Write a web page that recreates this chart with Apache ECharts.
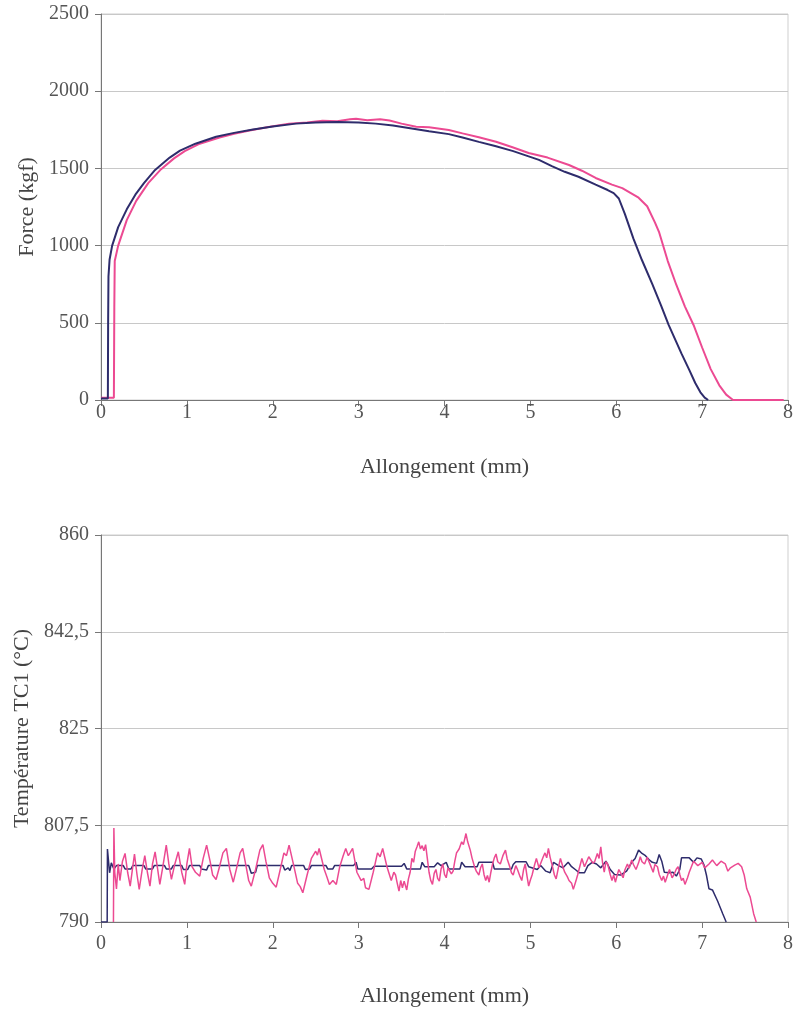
<!DOCTYPE html>
<html>
<head>
<meta charset="utf-8">
<script src="https://cdn.jsdelivr.net/npm/echarts@6/dist/echarts.min.js"></script>
<style>
html,body{margin:0;padding:0;background:#fff;}
#c{width:796px;height:1009px;}
</style>
</head>
<body>
<div id="c"></div>
<script>
// ---- Data ----
const xTickLabels = ['0','1','2','3','4','5','6','7','8'];
const forceTickLabels = ['0','500','1000','1500','2000','2500'];
const tempTickLabels = ['790','807,5','825','842,5','860'];
const tempBase = 790;

const forceBlue = [
[0,10],[0.08,10],[0.083,500],[0.087,800],[0.1,910],[0.13,1000],[0.2,1120],[0.3,1235],[0.4,1330],[0.5,1405],[0.63,1490],[0.8,1570],[0.92,1615],[1.1,1660],[1.34,1705],[1.55,1730],[1.77,1752],[2.0,1772],[2.27,1790],[2.5,1797],[2.75,1800],[3.0,1798],[3.2,1790],[3.4,1778],[3.6,1760],[3.82,1740],[4.05,1722],[4.21,1700],[4.4,1672],[4.6,1643],[4.8,1612],[4.98,1578],[5.1,1555],[5.25,1515],[5.4,1478],[5.56,1446],[5.76,1395],[5.9,1360],[5.97,1340],[6.03,1305],[6.1,1205],[6.2,1045],[6.3,905],[6.42,750],[6.52,615],[6.61,486],[6.7,375],[6.76,300],[6.85,195],[6.92,110],[6.98,50],[7.03,15],[7.07,0]
];
const forcePink = [
[0,15],[0.15,15],[0.155,600],[0.16,900],[0.2,1000],[0.3,1165],[0.41,1290],[0.55,1405],[0.7,1495],[0.85,1565],[0.975,1612],[1.15,1660],[1.38,1700],[1.55,1725],[1.73,1745],[1.95,1768],[2.19,1790],[2.4,1798],[2.58,1808],[2.75,1806],[2.9,1818],[2.97,1822],[3.1,1812],[3.25,1818],[3.36,1810],[3.5,1790],[3.67,1770],[3.82,1766],[4.05,1749],[4.21,1727],[4.4,1702],[4.6,1673],[4.8,1635],[4.98,1600],[5.2,1570],[5.45,1522],[5.6,1485],[5.76,1438],[5.95,1395],[6.07,1372],[6.26,1310],[6.36,1255],[6.45,1150],[6.5,1085],[6.6,900],[6.7,745],[6.8,605],[6.9,486],[7.0,340],[7.1,200],[7.2,95],[7.28,35],[7.36,0],[7.95,0]
];
const tempBlue = [
[0,790],[0.072,790],[0.075,803.2],[0.09,800.6],[0.1,798.9],[0.12,800.7],[0.15,799.6],[0.18,800.2],[0.26,800.2],[0.28,799.6],[0.35,799.6],[0.37,800.2],[0.5,800.2],[0.52,799.6],[0.6,799.6],[0.62,800.2],[0.74,800.2],[0.76,799.6],[0.82,799.6],[0.84,800.2],[0.94,800.2],[0.96,799.5],[1.01,799.5],[1.03,800.2],[1.15,800.2],[1.17,799.6],[1.23,799.4],[1.25,800.2],[1.72,800.2],[1.75,798.8],[1.8,799.0],[1.82,800.2],[2.12,800.2],[2.14,799.4],[2.18,799.8],[2.2,799.3],[2.22,800.2],[2.36,800.2],[2.38,799.5],[2.43,799.6],[2.45,800.2],[2.62,800.2],[2.64,799.6],[2.7,799.6],[2.72,800.2],[2.94,800.2],[2.97,800.8],[2.99,799.6],[3.15,799.6],[3.18,800.1],[3.5,800.1],[3.53,800.6],[3.56,799.6],[3.72,799.6],[3.74,800.8],[3.77,800.0],[3.88,800.0],[3.92,800.7],[3.96,800.2],[4.02,800.8],[4.05,799.6],[4.18,799.6],[4.2,800.8],[4.24,800.0],[4.38,800.0],[4.4,800.8],[4.56,800.8],[4.58,799.6],[4.78,799.6],[4.8,800.4],[4.83,800.9],[4.95,800.9],[4.98,800.0],[5.08,799.5],[5.12,800.2],[5.18,799.2],[5.23,798.9],[5.27,800.8],[5.33,800.2],[5.38,799.8],[5.44,800.8],[5.48,800.0],[5.53,799.4],[5.57,798.9],[5.63,798.9],[5.67,800.2],[5.72,800.8],[5.77,800.5],[5.82,799.8],[5.88,801.0],[5.93,799.5],[5.98,798.6],[6.05,798.5],[6.12,799.2],[6.18,800.8],[6.22,801.5],[6.26,803.0],[6.3,802.4],[6.34,802.0],[6.38,801.3],[6.42,800.8],[6.47,800.6],[6.5,802.2],[6.53,801.0],[6.56,799.0],[6.62,798.9],[6.66,799.0],[6.7,798.3],[6.74,799.5],[6.76,801.6],[6.85,801.6],[6.9,800.8],[6.94,801.6],[6.99,801.4],[7.02,800.4],[7.05,798.5],[7.08,796.0],[7.12,795.8],[7.18,793.8],[7.24,791.5],[7.28,790]
];
const tempPink = [
[0.145,790],[0.15,807],[0.16,799],[0.18,796],[0.2,800.5],[0.22,797.5],[0.25,801],[0.28,802.4],[0.31,799],[0.34,796.5],[0.37,800],[0.39,802.3],[0.42,798.5],[0.445,795.9],[0.48,799.5],[0.51,802],[0.54,799],[0.57,796.5],[0.6,800.5],[0.63,802.7],[0.66,799.5],[0.685,796.8],[0.72,800],[0.76,803.9],[0.79,800.5],[0.82,797.7],[0.86,800.5],[0.9,802.7],[0.94,799],[0.975,796.8],[1.0,800.5],[1.03,803.3],[1.06,800],[1.1,799],[1.15,798.3],[1.19,801.5],[1.23,803.9],[1.27,801],[1.3,798.5],[1.34,797.7],[1.38,800],[1.42,802.5],[1.46,803.3],[1.5,799.5],[1.54,797.2],[1.58,799.8],[1.62,802.5],[1.65,803.3],[1.69,800],[1.72,797.5],[1.75,796.5],[1.8,799.5],[1.85,803],[1.885,804.0],[1.92,801],[1.96,798],[2.0,797],[2.04,796.3],[2.08,799],[2.13,802.5],[2.16,802.0],[2.19,803.9],[2.24,800.5],[2.29,797],[2.32,796.4],[2.35,795.3],[2.4,798.5],[2.45,801.5],[2.5,802.8],[2.52,802.1],[2.54,803.3],[2.6,799.5],[2.63,798.2],[2.66,796.8],[2.7,797.5],[2.74,796.8],[2.78,800],[2.82,802],[2.85,803.3],[2.88,802.0],[2.9,802.5],[2.93,803.3],[2.98,799],[3.03,797.5],[3.06,797.9],[3.08,796.2],[3.12,795.9],[3.17,799],[3.22,802.5],[3.25,801.8],[3.28,803.3],[3.33,800],[3.38,797.5],[3.41,799.0],
[3.43,798.5],[3.45,797.0],[3.47,795.6],[3.49,797.5],[3.51,796.2],[3.53,797.4],[3.56,795.8],[3.58,797.8],[3.6,799],[3.62,801.5],[3.64,800.8],[3.66,802.8],[3.68,803.6],[3.7,804.5],[3.72,803.2],[3.74,803.8],[3.76,802.9],[3.78,804.0],[3.8,801.5],[3.82,799],[3.84,797.5],[3.86,796.8],[3.88,798.8],[3.9,799.5],[3.92,797.9],[3.94,797.4],[3.96,799.6],[3.98,800.5],[4.0,798.6],[4.02,798],[4.04,799.8],[4.06,800],[4.08,798.7],[4.1,799.2],[4.12,801.0],[4.14,802.5],[4.17,803.2],[4.2,804.5],[4.22,804.0],[4.25,806.0],[4.27,804.5],[4.3,803],[4.32,801.6],[4.35,800],[4.37,799.2],[4.4,798.5],[4.42,799.8],[4.44,800.5],[4.46,798.6],[4.48,797.5],[4.5,798.4],[4.52,797.2],[4.54,799.0],[4.56,800.5],[4.58,801.6],[4.6,802.3],[4.62,800.9],[4.65,800.5],[4.68,802.0],[4.71,803.0],[4.73,801.4],[4.76,800],[4.78,798.9],[4.8,798.5],[4.83,800.2],[4.85,799.5],[4.88,798.2],[4.9,797.5],[4.92,799.4],[4.94,800.5],[4.96,798.4],[4.98,796.5],[5.0,797.6],[5.02,798.5],[5.05,800.4],[5.07,801.5],[5.1,799.8],[5.12,800],[5.15,801.8],[5.17,802.5],[5.19,801.6],[5.21,803.3],[5.23,801.7],[5.25,800.5],[5.28,798.5],[5.3,797.8],[5.33,800.1],[5.35,801.5],[5.38,799.9],[5.4,799],[5.43,798.2],[5.45,797.5],[5.48,797.0],[5.5,795.9],[5.53,797.4],[5.55,798.5],[5.58,800.3],[5.6,801.5],[5.63,800.0],[5.65,800.2],[5.68,801.8],[5.7,802],[5.73,800.6],[5.75,801],[5.78,802.4],[5.8,801.5],[5.82,803.6],[5.84,800.8],[5.86,799],[5.88,800.9],[5.9,800.5],[5.93,798.6],[5.95,797.5],[5.97,798.5],[5.99,797.2],[6.01,798.4],[6.03,799.5],[6.06,798.6],[6.08,798],[6.1,799.4],[6.13,800.5],[6.15,799.7],[6.18,801.2],[6.2,800.4],[6.23,799.5],[6.26,800.7],[6.28,801.8],[6.3,800.9],[6.33,800.5],[6.36,801.7],[6.38,801.5],[6.4,800.2],[6.43,799],[6.45,800.4],[6.48,800],[6.5,798.6],[6.53,797.5],[6.55,798.3],[6.57,797.2],[6.6,798.6],[6.62,799.5],[6.65,798.0],[6.67,798.5],[6.7,799.6],[6.72,800],[6.74,798.6],[6.76,797.5],[6.78,797.9],[6.8,796.8],[6.83,798.0],[6.85,799],[6.9,801],[6.95,800.2],[7.0,800.8],[7.03,799.8],[7.08,800.5],[7.12,801.2],[7.17,800.2],[7.22,801.0],[7.27,800.5],[7.3,799.2],[7.33,799.8],[7.38,800.3],[7.42,800.6],[7.46,800.0],[7.49,798.5],[7.52,796],[7.56,794.5],[7.6,791.5],[7.63,790]
];

// ---- Styles ----
const BLUE = '#2e2c6c';
const PINK = '#ec4a92';
const FONT = '"Liberation Serif", "DejaVu Serif", serif';
const labelColor = '#555';

function xAxisDef(gridIndex, labelMargin, nameGap) {
  return {
    gridIndex, type: 'value', min: 0, max: 8, interval: 1,
    name: 'Allongement (mm)', nameLocation: 'middle', nameGap,
    nameTextStyle: { fontFamily: FONT, fontSize: 22, color: '#444' },
    axisLine: { show: true, lineStyle: { color: '#777', width: 1 } },
    axisTick: { show: true, inside: false, length: 6, lineStyle: { color: '#777' } },
    axisLabel: { margin: labelMargin, fontFamily: FONT, fontSize: 20, color: labelColor,
      formatter: (v) => xTickLabels[Math.round(v)] },
    splitLine: { show: false }
  };
}

const tempData = (arr) => arr.map(p => [p[0], p[1] - tempBase]);

const option = {
  animation: false,
  backgroundColor: '#fff',
  grid: [
    { left: 101, top: 14, width: 689, height: 386, show: true, borderColor: '#cfcfcf', borderWidth: 1, backgroundColor: 'transparent' },
    { left: 101, top: 535, width: 689, height: 387, show: true, borderColor: '#cfcfcf', borderWidth: 1, backgroundColor: 'transparent' }
  ],
  xAxis: [ xAxisDef(0, 3, 56), xAxisDef(1, 12, 63) ],
  yAxis: [
    {
      gridIndex: 0, type: 'value', min: 0, max: 2500, interval: 500,
      name: 'Force (kgf)', nameLocation: 'middle', nameGap: 63, nameRotate: 90,
      nameTextStyle: { fontFamily: FONT, fontSize: 22, color: '#444' },
      axisLine: { show: true, lineStyle: { color: '#777' } },
      axisTick: { show: true, length: 6, lineStyle: { color: '#777' } },
      axisLabel: { margin: 12, fontFamily: FONT, fontSize: 20, color: labelColor,
        formatter: (v, i) => forceTickLabels[i] },
      splitLine: { show: true, lineStyle: { color: '#c8c8c8', width: 1 } }
    },
    {
      gridIndex: 1, type: 'value', min: 0, max: 70, interval: 17.5,
      name: 'Température TC1 (°C)', nameLocation: 'middle', nameGap: 67, nameRotate: 90,
      nameTextStyle: { fontFamily: FONT, fontSize: 22, color: '#444' },
      axisLine: { show: true, lineStyle: { color: '#777' } },
      axisTick: { show: true, length: 6, lineStyle: { color: '#777' } },
      axisLabel: { margin: 12, fontFamily: FONT, fontSize: 20, color: labelColor,
        formatter: (v, i) => tempTickLabels[i] },
      splitLine: { show: true, lineStyle: { color: '#c8c8c8', width: 1 } }
    }
  ],
  series: [
    { type: 'line', xAxisIndex: 0, yAxisIndex: 0, data: forcePink, showSymbol: false, lineStyle: { color: PINK, width: 2 }, z: 3 },
    { type: 'line', xAxisIndex: 0, yAxisIndex: 0, data: forceBlue, showSymbol: false, lineStyle: { color: BLUE, width: 2 }, z: 4 },
    { type: 'line', xAxisIndex: 1, yAxisIndex: 1, data: tempData(tempBlue), showSymbol: false, lineStyle: { color: BLUE, width: 1.5 }, z: 3 },
    { type: 'line', xAxisIndex: 1, yAxisIndex: 1, data: tempData(tempPink), showSymbol: false, lineStyle: { color: PINK, width: 1.5 }, z: 4 }
  ]
};

const chart = echarts.init(document.getElementById('c'), null, { renderer: 'canvas' });
chart.setOption(option);
</script>
</body>
</html>
